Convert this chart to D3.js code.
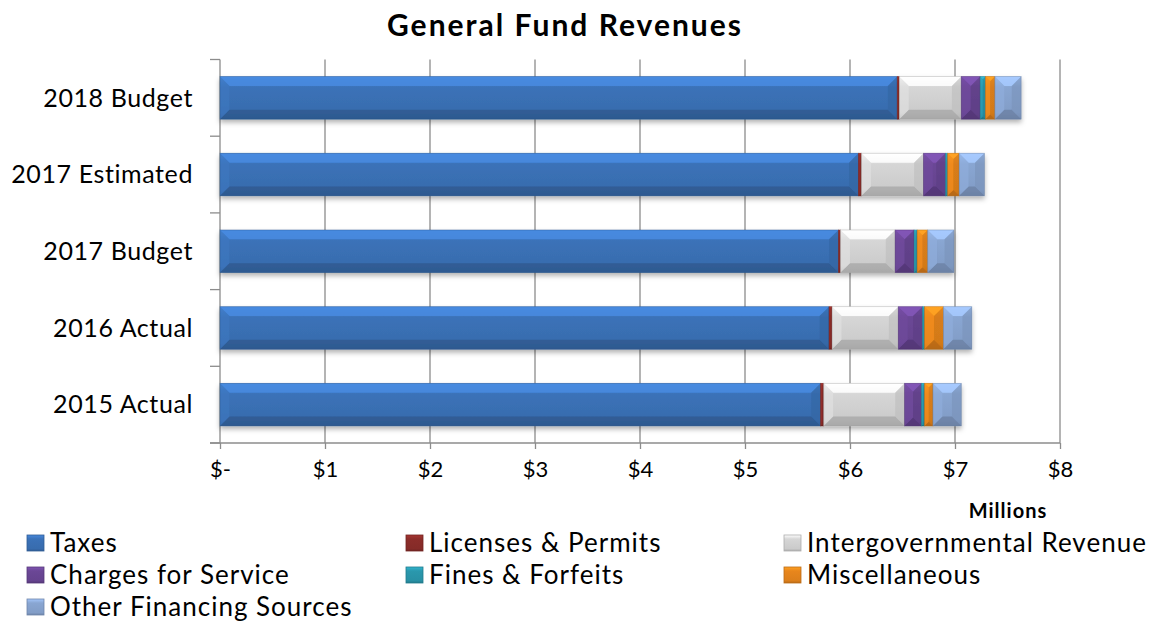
<!DOCTYPE html>
<html>
<head>
<meta charset="utf-8">
<script src="https://cdn.jsdelivr.net/npm/d3@7"></script>
<style>
  body { margin: 0; background: #fff; }
  svg { display: block; font-family: "Lato", "DejaVu Sans", sans-serif; }
</style>
</head>
<body>
<svg id="chart" width="1157" height="623"></svg>
<script>
// categories top to bottom
const years = ["2018 Budget", "2017 Estimated", "2017 Budget", "2016 Actual", "2015 Actual"];
const seriesNames = ["Taxes", "Licenses & Permits", "Intergovernmental Revenue",
    "Charges for Service", "Fines & Forfeits", "Miscellaneous", "Other Financing Sources"];
const seriesColors = ["#3b72b8", "#8c2d2a", "#d6d6d6", "#6b4796", "#2a98ad", "#e8861c", "#89a6d2"];

// $ millions, one array per series, same order as years
const taxes    = [6.45, 6.08, 5.89, 5.80, 5.72];
const licenses = [0.02, 0.03, 0.02, 0.03, 0.03];
const intergov = [0.59, 0.59, 0.52, 0.63, 0.77];
const charges  = [0.18, 0.21, 0.18, 0.23, 0.16];
const fines    = [0.05, 0.02, 0.03, 0.02, 0.03];
const misc     = [0.09, 0.11, 0.10, 0.18, 0.08];
const other    = [0.25, 0.24, 0.25, 0.27, 0.27];
const xTicks = [0, 1, 2, 3, 4, 5, 6, 7, 8];

const seriesValues = [taxes, licenses, intergov, charges, fines, misc, other];
const table = years.map((y, i) => {
    const row = {year: y};
    seriesNames.forEach((s, j) => row[s] = seriesValues[j][i]);
    return row;
});
const stacked = d3.stack().keys(seriesNames)(table);

const svg = d3.select("#chart");
const x = d3.scaleLinear().domain([0, 8]).range([220, 1060]);
const y = d3.scaleBand().domain(years).range([59.5, 443]).paddingInner(0.445).paddingOuter(0.2225);

const defs = svg.append("defs");
defs.append("filter").attr("id", "shadow")
    .attr("x", "-5%").attr("y", "-20%").attr("width", "110%").attr("height", "160%")
    .append("feDropShadow")
    .attr("dx", 0).attr("dy", 3).attr("stdDeviation", 2.5)
    .attr("flood-color", "#000").attr("flood-opacity", 0.3);

seriesColors.forEach((c, i) => {
    const g = defs.append("linearGradient").attr("id", "grad" + i)
        .attr("x1", 0).attr("y1", 0).attr("x2", 0).attr("y2", 1);
    const base = d3.color(c);
    g.append("stop").attr("offset", "0%").attr("stop-color", base.brighter(0.5));
    g.append("stop").attr("offset", "25%").attr("stop-color", base);
    g.append("stop").attr("offset", "85%").attr("stop-color", base.darker(0.15));
    g.append("stop").attr("offset", "100%").attr("stop-color", base.darker(0.6));
});

svg.append("text")
    .attr("x", 565).attr("y", 36)
    .attr("text-anchor", "middle")
    .attr("font-size", 30).attr("font-weight", "bold")
    .attr("letter-spacing", 2)
    .text("General Fund Revenues");

// gridlines
svg.append("g").selectAll("line")
    .data(xTicks.slice(1))
    .join("line")
    .attr("x1", d => x(d)).attr("x2", d => x(d))
    .attr("y1", 59.5).attr("y2", 443)
    .attr("stroke", "#8c8c8c").attr("stroke-width", 1.3);

// x axis
const xAxis = svg.append("g")
    .attr("transform", "translate(0,443)")
    .call(d3.axisBottom(x).tickValues(xTicks).tickSize(6).tickSizeOuter(0)
        .tickFormat(d => d === 0 ? "$-" : "$" + d));
xAxis.select(".domain").remove();
xAxis.selectAll(".tick line").attr("stroke", "#8c8c8c").attr("stroke-width", 1.3);
xAxis.selectAll(".tick text")
    .attr("y", 18).attr("font-size", 22).attr("fill", "#000")
    .attr("font-family", "Lato, sans-serif");
svg.append("line")
    .attr("x1", 210).attr("x2", x(8)).attr("y1", 443).attr("y2", 443)
    .attr("stroke", "#8c8c8c").attr("stroke-width", 1.3);

svg.append("text")
    .attr("x", 1008).attr("y", 518)
    .attr("text-anchor", "middle")
    .attr("font-size", 20).attr("font-weight", "bold")
    .attr("letter-spacing", 1)
    .text("Millions");

// y axis
const bounds = years.map(d => y(d) - y.step() * y.paddingInner() / 2).concat([443]);
svg.append("line")
    .attr("x1", 220).attr("x2", 220).attr("y1", 59.5).attr("y2", 443)
    .attr("stroke", "#8c8c8c").attr("stroke-width", 1.3);
svg.append("g").selectAll("line")
    .data(bounds)
    .join("line")
    .attr("x1", 210).attr("x2", 220)
    .attr("y1", d => d).attr("y2", d => d)
    .attr("stroke", "#8c8c8c").attr("stroke-width", 1.3);
svg.append("g").selectAll("text")
    .data(years)
    .join("text")
    .attr("x", 193)
    .attr("y", d => y(d) + y.bandwidth() / 2)
    .attr("dy", "0.35em")
    .attr("text-anchor", "end")
    .attr("font-size", 25)
    .attr("letter-spacing", 0.6)
    .text(d => d);

// bevelled segment pieces
function bevel(x0, x1, y0, h, side) {
    const w = x1 - x0;
    const b = Math.min(w / 2, h * 0.22);
    const y1 = y0 + h;
    if (side === "top") return `M${x0},${y0}L${x1},${y0}L${x1 - b},${y0 + b}L${x0 + b},${y0 + b}Z`;
    if (side === "bottom") return `M${x0},${y1}L${x1},${y1}L${x1 - b},${y1 - b}L${x0 + b},${y1 - b}Z`;
    if (side === "left") return `M${x0},${y0}L${x0 + b},${y0 + b}L${x0 + b},${y1 - b}L${x0},${y1}Z`;
    return `M${x1},${y0}L${x1 - b},${y0 + b}L${x1 - b},${y1 - b}L${x1},${y1}Z`;
}

const bars = svg.append("g").attr("filter", "url(#shadow)");
stacked.forEach((layer, i) => {
    const base = d3.color(seriesColors[i]);
    const seg = bars.append("g").selectAll("g")
        .data(layer)
        .join("g");
    seg.append("rect")
        .attr("x", d => x(d[0]))
        .attr("y", d => y(d.data.year))
        .attr("width", d => x(d[1]) - x(d[0]))
        .attr("height", y.bandwidth())
        .attr("fill", `url(#grad${i})`);
    const pieces = [["top", base.brighter(0.55), 0.85], ["bottom", base.darker(0.7), 0.8],
        ["left", base.brighter(0.15), 0.6], ["right", base.darker(0.35), 0.6]];
    pieces.forEach(([side, col, op]) => {
        seg.append("path")
            .attr("d", d => bevel(x(d[0]), x(d[1]), y(d.data.year), y.bandwidth(), side))
            .attr("fill", col).attr("opacity", op);
    });
    seg.append("rect")
        .attr("x", d => x(d[0]))
        .attr("y", d => y(d.data.year))
        .attr("width", d => x(d[1]) - x(d[0]))
        .attr("height", y.bandwidth())
        .attr("fill", "none")
        .attr("stroke", base.darker(0.8)).attr("stroke-opacity", 0.5).attr("stroke-width", 0.8);
});

// legend
const legendPos = [[27, 543], [406, 543], [784, 543], [27, 575], [406, 575], [784, 575], [27, 607]];
const legend = svg.append("g").selectAll("g")
    .data(seriesNames)
    .join("g")
    .attr("transform", (d, i) => `translate(${legendPos[i][0]},${legendPos[i][1]})`);
legend.append("rect")
    .attr("x", 0).attr("y", -8).attr("width", 17).attr("height", 16)
    .attr("fill", (d, i) => `url(#grad${i})`)
    .attr("stroke", (d, i) => d3.color(seriesColors[i]).darker(0.6)).attr("stroke-width", 0.8);
legend.append("text")
    .attr("x", 23).attr("y", 9)
    .attr("font-size", 26)
    .attr("letter-spacing", 1)
    .text(d => d);
</script>
</body>
</html>
